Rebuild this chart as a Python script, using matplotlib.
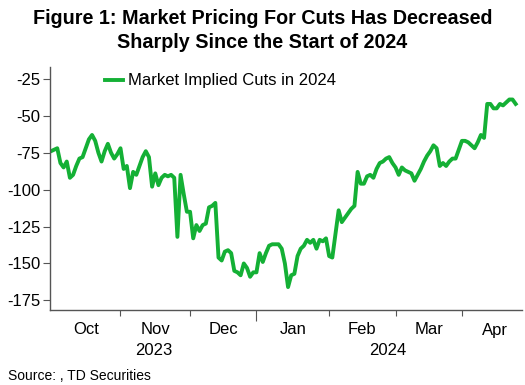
import matplotlib
matplotlib.use("Agg")
import matplotlib.pyplot as plt
import matplotlib.transforms as mtransforms
import numpy as np
import pandas as pd

plt.rcParams['font.family'] = ['Liberation Sans', 'DejaVu Sans']
plt.rcParams['axes.unicode_minus'] = False

# Market implied cuts in 2024 (bp), one value per business day from 2 Oct 2023
cuts = [
    -74, -73, -72, -82, -85, -81, -92, -90, -84, -79,
    -78, -72, -66, -63, -67, -75, -81, -74, -69, -75,
    -79, -76, -72, -86, -84, -99, -88, -90, -84, -78,
    -74, -78, -98, -89, -97, -92, -90, -91, -90, -92,
    -132, -90, -103, -115, -115, -133, -124, -128, -124, -123,
    -112, -111, -109, -146, -148, -142, -141, -143, -155, -156,
    -158, -150, -153, -159, -156, -156, -143, -149, -143, -138,
    -137, -137, -137, -140, -150, -166, -158, -157, -145, -140,
    -138, -134, -136, -134, -140, -134, -135, -133, -145, -146,
    -130, -114, -122, -119, -116, -113, -111, -88, -96, -96,
    -91, -90, -92, -86, -82, -81, -79, -78, -82, -85,
    -90, -85, -87, -88, -89, -94, -90, -86, -81, -77,
    -74, -70, -72, -84, -82, -84, -81, -79, -79, -73,
    -67, -67, -68, -70, -72, -68, -63, -65, -42, -42,
    -45, -45, -42, -43, -41, -39, -39, -42,
]
dates = pd.bdate_range('2023-10-02', periods=len(cuts))
series_label = 'Market Implied Cuts in 2024'
yticks = [-25, -50, -75, -100, -125, -150, -175]
years = ['2023', '2024']

fig = plt.figure(figsize=(5.25, 3.85), dpi=100)
ax = fig.add_axes([50 / 525, 1 - 310 / 385, 472 / 525, 243 / 385])

x = np.arange(len(cuts))
ax.plot(x, cuts, color='#14b035', lw=2.8, label=series_label, solid_joinstyle='round')

ax.set_ylim(-181.5, -17)
ax.set_xlim(-0.3, 149)
ax.set_yticks(yticks)
ax.set_yticklabels([str(v) for v in yticks], fontsize=12)

# month boundaries
month_starts = [0] + [i for i in range(1, len(dates)) if dates[i].month != dates[i - 1].month]
bounds = month_starts + [151]
ax.set_xticks(month_starts[1:])
ax.set_xticklabels([])
mids = [(bounds[k] + bounds[k + 1]) / 2 for k in range(len(bounds) - 1)]
ax.set_xticks(mids, minor=True)
ax.set_xticklabels([d.strftime('%b') for d in dates[month_starts]], minor=True, fontsize=12)
ax.tick_params(axis='x', which='minor', length=0, pad=9)
ax.tick_params(axis='x', which='major', length=4, color='#555555')
ax.tick_params(axis='y', length=5, color='#555555', pad=2)
jan = [d.month for d in dates[month_starts[1:]]].index(1)
ax.xaxis.get_major_ticks()[jan].tick1line.set_markersize(8)

# year labels
trans = mtransforms.blended_transform_factory(ax.transData, ax.transAxes)
jan_pos = month_starts[1:][jan]
ax.text((0 + jan_pos) / 2, -0.165, years[0], transform=trans, ha='center', va='center', fontsize=12)
ax.text((jan_pos + 148) / 2, -0.165, years[1], transform=trans, ha='center', va='center', fontsize=12)

for s in ['top', 'right']:
    ax.spines[s].set_visible(False)
for s in ['left', 'bottom']:
    ax.spines[s].set_color('#555555')
    ax.spines[s].set_linewidth(1.0)

ax.legend(loc='upper left', bbox_to_anchor=(0.085, 1.035), frameon=False, fontsize=12,
          handlelength=1.1, handletextpad=0.3)

fig.text(0.5, 1 - 18 / 385, 'Figure 1: Market Pricing For Cuts Has Decreased',
         ha='center', va='center', fontsize=14.2, fontweight='bold')
fig.text(0.5, 1 - 43 / 385, 'Sharply Since the Start of 2024',
         ha='center', va='center', fontsize=14.2, fontweight='bold')
fig.text(8 / 525, 1 - 376 / 385, 'Source: , TD Securities', ha='left', va='center', fontsize=10)

fig.savefig('out.png', dpi=100)
